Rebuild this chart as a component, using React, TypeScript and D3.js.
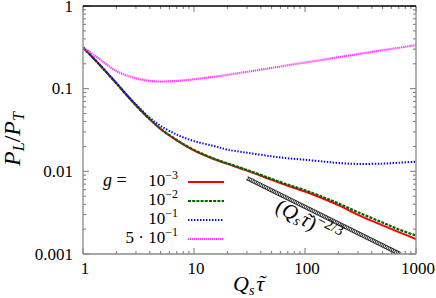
import React, { useEffect, useRef } from "react";
import * as d3 from "d3";

const xs = [1, 1.4, 2, 2.8, 4, 5, 7, 10, 15, 20, 30, 50, 70, 100, 150, 200, 300, 500, 700, 1000];
const gRed = [0.316, 0.197, 0.116, 0.0695, 0.0425, 0.0325, 0.0237, 0.0179, 0.0141, 0.0123, 0.0102, 0.0079, 0.0067, 0.0057, 0.0046, 0.0039, 0.00298, 0.00222, 0.00184, 0.00152];
const gGreen = [0.316, 0.197, 0.116, 0.0695, 0.0426, 0.0327, 0.0239, 0.0181, 0.0143, 0.0125, 0.0104, 0.0081, 0.0069, 0.0059, 0.0048, 0.0041, 0.0032, 0.0024, 0.00198, 0.00167];
const gBlue = [0.316, 0.197, 0.117, 0.071, 0.0445, 0.0355, 0.0278, 0.0232, 0.0203, 0.0183, 0.0168, 0.0152, 0.0144, 0.0138, 0.0131, 0.0126, 0.0123, 0.0124, 0.0127, 0.0131];
const gMagenta = [0.316, 0.229, 0.163, 0.137, 0.124, 0.122, 0.124, 0.130, 0.139, 0.147, 0.160, 0.178, 0.192, 0.207, 0.225, 0.240, 0.262, 0.292, 0.312, 0.337];
const refLine = [{ x: 30, y: 0.0083 }, { x: 716, y: 0.001 }];

const xTicks = [1, 10, 100, 1000];
const xTickLabels = ["1", "10", "100", "1000"];
const yTicks = [0.001, 0.01, 0.1, 1];
const yTickLabels = ["0.001", "0.01", "0.1", "1"];

const legendBase = ["10", "10", "10", "5 · 10"];
const legendExp = ["−3", "−2", "−1", "−1"];

const W = 436, H = 298;
const L = 83, R = 416, T = 6, B = 254;
const FAM = "Liberation Serif";
const F = { fontFamily: "'Liberation Serif'" };

export default function App() {
  const ref = useRef<SVGSVGElement>(null);
  useEffect(() => {
    if (ref.current) {
      d3.select(ref.current).selectAll("text").style("font-family", "'Liberation Serif'");
      d3.select(ref.current).selectAll("tspan").style("font-family", "'Liberation Serif'");
    }
  }, []);

  const x = d3.scaleLog().domain([1, 1000]).range([L, R]);
  const y = d3.scaleLog().domain([0.001, 1]).range([B, T]);
  const line = d3
    .line<[number, number]>()
    .x((d) => x(d[0]))
    .y((d) => y(d[1]))
    .curve(d3.curveCatmullRom.alpha(0.5));

  const series = [
    { vals: gRed, color: "#ff0000", dash: "", w: 2 },
    { vals: gGreen, color: "#006400", dash: "3,1.2", w: 2.2 },
    { vals: gBlue, color: "#0000ff", dash: "1.4,1.6", w: 2 },
    { vals: gMagenta, color: "#ff33ff", dash: "1.2,0.8", w: 2.2 },
  ];

  const minorX: number[] = [];
  for (let dec = 1; dec < 1000; dec *= 10) for (let k = 2; k <= 9; k++) minorX.push(dec * k);
  const minorY: number[] = [];
  for (let dec = 0.001; dec < 0.99; dec *= 10) for (let k = 2; k <= 9; k++) minorY.push(dec * k);

  const refPath = d3
    .line<{ x: number; y: number }>()
    .x((d) => x(d.x))
    .y((d) => y(d.y))(refLine) as string;

  const tickColor = "#777";
  const legY = [182, 201, 220, 239];

  return (
    <svg ref={ref} width={W} height={H} fontFamily={FAM} style={{ position: "absolute", left: 0, top: 0, background: "#fff" }}>
      <defs>
        <clipPath id="plotclip">
          <rect x={L} y={T} width={R - L} height={B - T} />
        </clipPath>
      </defs>
      {/* ticks */}
      <g stroke={tickColor} strokeWidth={1}>
        {xTicks.map((t) => (
          <g key={"xt" + t}>
            <line x1={x(t)} x2={x(t)} y1={B} y2={B - 6} />
            <line x1={x(t)} x2={x(t)} y1={T} y2={T + 6} />
          </g>
        ))}
        {minorX.map((t) => (
          <g key={"xm" + t}>
            <line x1={x(t)} x2={x(t)} y1={B} y2={B - 3} />
            <line x1={x(t)} x2={x(t)} y1={T} y2={T + 3} />
          </g>
        ))}
        {yTicks.map((t) => (
          <g key={"yt" + t}>
            <line x1={L} x2={L + 6} y1={y(t)} y2={y(t)} />
            <line x1={R} x2={R - 6} y1={y(t)} y2={y(t)} />
          </g>
        ))}
        {minorY.map((t) => (
          <g key={"ym" + t}>
            <line x1={L} x2={L + 3} y1={y(t)} y2={y(t)} />
            <line x1={R} x2={R - 3} y1={y(t)} y2={y(t)} />
          </g>
        ))}
      </g>
      {/* reference line */}
      <g clipPath="url(#plotclip)">
        <path d={refPath} stroke="#222" strokeWidth={4.2} fill="none" />
        <path d={refPath} stroke="#fff" strokeWidth={2.4} strokeDasharray="0.9,0.9" fill="none" />
      </g>
      {/* curves */}
      <g clipPath="url(#plotclip)">
        {series.map((s, i) => (
          <path
            key={i}
            d={line(xs.map((xv, j) => [xv, s.vals[j]] as [number, number])) as string}
            fill="none"
            stroke={s.color}
            strokeWidth={s.w}
            strokeDasharray={s.dash || undefined}
          />
        ))}
      </g>
      {/* border */}
      <line x1={L} x2={L} y1={T} y2={B} stroke="#888" strokeWidth={1.3} />
      <line x1={R} x2={R} y1={T} y2={B} stroke="#888" strokeWidth={1.3} />
      <line x1={L} x2={R} y1={B} y2={B} stroke="#888" strokeWidth={1.3} />
      <line x1={L} x2={R} y1={T} y2={T} stroke="#000" strokeWidth={1.3} />
      {/* tick labels */}
      {xTicks.map((t, i) => (
        <text key={"xl" + t} x={x(t) + 2} y={274} textAnchor="middle" fontSize={17} style={F}>
          {xTickLabels[i]}
        </text>
      ))}
      {yTicks.map((t, i) => (
        <text key={"yl" + t} x={73} y={y(t) + 5.5} textAnchor="end" fontSize={17} style={F}>
          {yTickLabels[i]}
        </text>
      ))}
      {/* x axis label */}
      <text x={233} y={291} fontSize={22} fontStyle="italic" style={F}>
        <tspan>Q</tspan>
        <tspan fontSize={14} dy={4}>s</tspan>
        <tspan dy={-4} dx={2}>τ</tspan>
      </text>
      <text x={263} y={290} fontSize={22} textAnchor="middle" style={F}>˜</text>
      {/* y axis label */}
      <text transform="translate(20,139) rotate(-90)" textAnchor="middle" fontSize={24} style={F}>
        <tspan fontStyle="italic">P</tspan>
        <tspan fontStyle="italic" fontSize={16} dy={4}>L</tspan>
        <tspan dy={-4}>/</tspan>
        <tspan fontStyle="italic">P</tspan>
        <tspan fontStyle="italic" fontSize={16} dy={4}>T</tspan>
      </text>
      {/* legend */}
      <text x={103} y={186} fontSize={18} style={F}>
        <tspan fontStyle="italic">g</tspan>
        <tspan> =</tspan>
      </text>
      {series.map((s, i) => (
        <g key={"lg" + i}>
          <text x={178} y={legY[i] + 4} fontSize={17} textAnchor="end" style={F}>
            {legendBase[i]}
            <tspan fontSize={12} dy={-7}>{legendExp[i]}</tspan>
          </text>
          <line
            x1={188}
            x2={224}
            y1={legY[i]}
            y2={legY[i]}
            stroke={s.color}
            strokeWidth={s.w}
            strokeDasharray={s.dash || undefined}
          />
        </g>
      ))}
      {/* annotation */}
      <g transform="translate(274,211) rotate(27)">
        <text x={0} y={0} fontSize={21} style={F}>
          <tspan>(</tspan>
          <tspan fontStyle="italic">Q</tspan>
          <tspan fontStyle="italic" fontSize={14} dy={3}>s</tspan>
          <tspan fontStyle="italic" dy={-3} dx={1}>τ</tspan>
          <tspan>)</tspan>
          <tspan fontSize={15} dy={-8}>−2/3</tspan>
        </text>
        <text x={35} y={0} fontSize={21} textAnchor="middle" style={F}>˜</text>
      </g>
    </svg>
  );
}
